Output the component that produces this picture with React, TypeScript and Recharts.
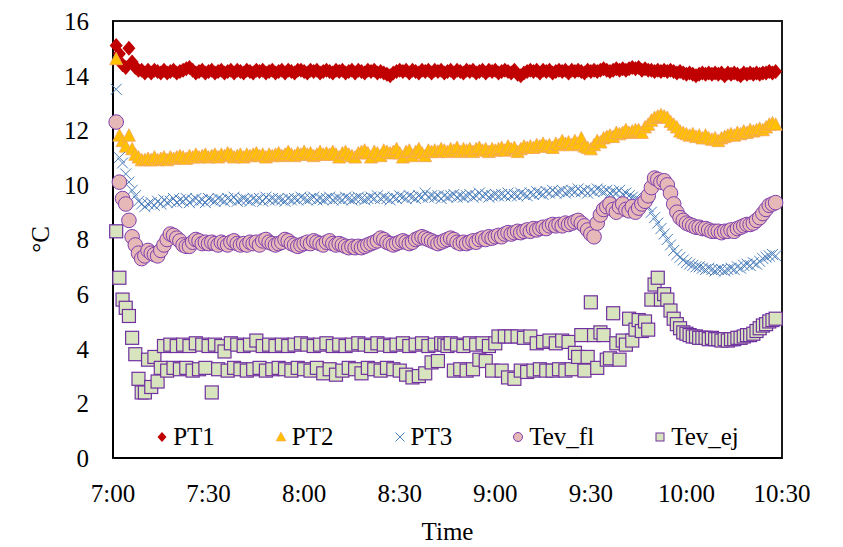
import React from 'react';
import { ScatterChart, Scatter, XAxis, YAxis, Legend, ReferenceArea } from 'recharts';

const FONT = '"Liberation Serif", "Times New Roman", Times, serif';

// minutes after 7:00
const minutes = [
  1, 2, 3, 4, 5, 6, 7, 8, 9, 10,
  11, 12, 13, 14, 15, 16, 17, 18, 19, 20,
  21, 22, 23, 24, 25, 26, 27, 28, 29, 30,
  31, 32, 33, 34, 35, 36, 37, 38, 39, 40,
  41, 42, 43, 44, 45, 46, 47, 48, 49, 50,
  51, 52, 53, 54, 55, 56, 57, 58, 59, 60,
  61, 62, 63, 64, 65, 66, 67, 68, 69, 70,
  71, 72, 73, 74, 75, 76, 77, 78, 79, 80,
  81, 82, 83, 84, 85, 86, 87, 88, 89, 90,
  91, 92, 93, 94, 95, 96, 97, 98, 99, 100,
  101, 102, 103, 104, 105, 106, 107, 108, 109, 110,
  111, 112, 113, 114, 115, 116, 117, 118, 119, 120,
  121, 122, 123, 124, 125, 126, 127, 128, 129, 130,
  131, 132, 133, 134, 135, 136, 137, 138, 139, 140,
  141, 142, 143, 144, 145, 146, 147, 148, 149, 150,
  151, 152, 153, 154, 155, 156, 157, 158, 159, 160,
  161, 162, 163, 164, 165, 166, 167, 168, 169, 170,
  171, 172, 173, 174, 175, 176, 177, 178, 179, 180,
  181, 182, 183, 184, 185, 186, 187, 188, 189, 190,
  191, 192, 193, 194, 195, 196, 197, 198, 199, 200,
  201, 202, 203, 204, 205, 206, 207, 208,
];

const xTicks = [0, 30, 60, 90, 120, 150, 180, 210];
const xTickLabels = ['7:00', '7:30', '8:00', '8:30', '9:00', '9:30', '10:00', '10:30'];
const yTicks = [0, 2, 4, 6, 8, 10, 12, 14, 16];

const pt1 = [
  15.1, 14.8, 14.4, 14.3, 15.0, 14.5, 14.3, 14.2, 14.2, 14.1,
  14.2, 14.1, 14.2, 14.15, 14.1, 14.2, 14.1, 14.15, 14.2, 14.1,
  14.15, 14.2, 14.25, 14.3, 14.2, 14.1, 14.15, 14.2, 14.1, 14.15,
  14.2, 14.1, 14.15, 14.2, 14.1, 14.15, 14.2, 14.1, 14.2, 14.15,
  14.1, 14.2, 14.15, 14.1, 14.2, 14.15, 14.2, 14.1, 14.15, 14.2,
  14.1, 14.15, 14.2, 14.1, 14.2, 14.15, 14.1, 14.2, 14.2, 14.15,
  14.1, 14.2, 14.15, 14.2, 14.1, 14.15, 14.2, 14.15, 14.1, 14.2,
  14.15, 14.2, 14.1, 14.15, 14.2, 14.1, 14.2, 14.15, 14.1, 14.2,
  14.15, 14.2, 14.1, 14.15, 14.1, 14.05, 14.0, 14.1, 14.15, 14.2,
  14.15, 14.2, 14.1, 14.2, 14.15, 14.1, 14.2, 14.15, 14.2, 14.1,
  14.2, 14.15, 14.2, 14.1, 14.15, 14.2, 14.1, 14.2, 14.15, 14.1,
  14.2, 14.15, 14.2, 14.1, 14.15, 14.2, 14.1, 14.2, 14.15, 14.2,
  14.1, 14.15, 14.2, 14.15, 14.1, 14.2, 14.05, 14.0, 14.1, 14.15,
  14.2, 14.15, 14.2, 14.1, 14.2, 14.15, 14.2, 14.1, 14.15, 14.2,
  14.15, 14.2, 14.1, 14.2, 14.15, 14.2, 14.15, 14.1, 14.2, 14.15,
  14.2, 14.15, 14.2, 14.25, 14.2, 14.15, 14.2, 14.25, 14.2, 14.25,
  14.2, 14.25, 14.3, 14.25, 14.3, 14.2, 14.25, 14.2, 14.2, 14.15,
  14.2, 14.15, 14.2, 14.15, 14.2, 14.15, 14.1, 14.15, 14.1, 14.05,
  14.1, 14.05, 14.0, 14.05, 14.1, 14.05, 14.1, 14.05, 14.1, 14.05,
  14.1, 14.0, 14.1, 14.05, 14.1, 14.05, 14.0, 14.1, 14.05, 14.1,
  14.05, 14.1, 14.05, 14.1, 14.1, 14.15, 14.1, 14.15,
];

const pt2 = [
  14.6, 11.8, 11.6, 11.4, 11.8, 11.3, 11.1, 11.0, 10.9, 10.9,
  10.95, 10.9, 11.0, 10.9, 10.95, 11.0, 10.9, 11.0, 10.95, 11.0,
  11.05, 11.0, 10.95, 11.05, 11.0, 11.1, 11.0, 11.05, 11.1, 11.0,
  11.05, 11.1, 11.0, 11.1, 11.05, 11.15, 11.1, 11.0, 11.05, 11.1,
  11.0, 11.1, 11.05, 11.1, 11.15, 11.05, 11.1, 11.0, 11.1, 11.05,
  11.1, 11.15, 11.05, 11.1, 11.2, 11.1, 11.05, 11.15, 11.1, 11.2,
  11.1, 11.15, 11.05, 11.1, 11.2, 11.1, 11.15, 11.1, 11.2, 11.1,
  11.0, 11.15, 11.2, 11.1, 11.05, 11.0, 11.15, 11.2, 11.25, 11.15,
  11.0, 11.2, 11.15, 11.05, 11.25, 11.2, 11.15, 11.2, 11.3, 11.15,
  11.0, 11.2, 11.25, 11.05, 11.2, 11.3, 11.15, 11.05, 11.25, 11.2,
  11.25, 11.2, 11.3, 11.25, 11.2, 11.3, 11.25, 11.35, 11.2, 11.3,
  11.25, 11.3, 11.2, 11.3, 11.35, 11.25, 11.3, 11.2, 11.3, 11.25,
  11.3, 11.35, 11.25, 11.4, 11.3, 11.35, 11.2, 11.3, 11.4, 11.35,
  11.4, 11.35, 11.45, 11.4, 11.5, 11.4, 11.45, 11.35, 11.5, 11.45,
  11.6, 11.5, 11.55, 11.45, 11.6, 11.5, 11.7, 11.4, 11.35, 11.3,
  11.45, 11.6, 11.55, 11.7, 11.75, 11.8, 11.75, 11.9, 11.85, 11.9,
  12.0, 11.9, 11.95, 12.0, 12.0, 11.9, 12.1, 12.2, 12.35, 12.45,
  12.5, 12.55, 12.5, 12.45, 12.3, 12.2, 12.1, 11.95, 11.9, 11.85,
  11.8, 11.85, 11.75, 11.8, 11.7, 11.8, 11.7, 11.65, 11.7, 11.6,
  11.7, 11.75, 11.8, 11.85, 11.8, 11.9, 11.85, 11.95, 11.9, 12.0,
  11.95, 12.0, 12.05, 12.0, 12.1, 12.2, 12.25, 12.2,
];

const pt3 = [
  13.5, 11.0, 10.8, 10.4, 10.1, 9.8, 9.6, 9.4, 9.3, 9.2,
  9.3, 9.35, 9.25, 9.4, 9.3, 9.45, 9.35, 9.4, 9.5, 9.35,
  9.45, 9.4, 9.5, 9.35, 9.45, 9.5, 9.4, 9.45, 9.35, 9.5,
  9.45, 9.4, 9.5, 9.45, 9.4, 9.5, 9.45, 9.55, 9.4, 9.45,
  9.5, 9.45, 9.4, 9.5, 9.45, 9.5, 9.4, 9.55, 9.45, 9.5,
  9.45, 9.5, 9.45, 9.4, 9.5, 9.45, 9.5, 9.45, 9.55, 9.5,
  9.45, 9.5, 9.55, 9.45, 9.5, 9.45, 9.5, 9.55, 9.45, 9.5,
  9.5, 9.45, 9.55, 9.5, 9.45, 9.5, 9.55, 9.5, 9.45, 9.5,
  9.55, 9.5, 9.6, 9.5, 9.55, 9.5, 9.45, 9.55, 9.5, 9.6,
  9.55, 9.5, 9.6, 9.55, 9.5, 9.6, 9.55, 9.7, 9.55, 9.6,
  9.55, 9.6, 9.5, 9.6, 9.55, 9.6, 9.65, 9.55, 9.6, 9.55,
  9.6, 9.65, 9.55, 9.6, 9.7, 9.6, 9.65, 9.55, 9.6, 9.65,
  9.6, 9.65, 9.6, 9.7, 9.6, 9.65, 9.6, 9.7, 9.65, 9.6,
  9.7, 9.65, 9.75, 9.7, 9.65, 9.75, 9.7, 9.8, 9.7, 9.75,
  9.8, 9.7, 9.75, 9.8, 9.75, 9.85, 9.75, 9.8, 9.7, 9.8,
  9.75, 9.85, 9.8, 9.75, 9.8, 9.7, 9.75, 9.7, 9.8, 9.65,
  9.7, 9.6, 9.55, 9.5, 9.45, 9.4, 9.3, 9.2, 9.0, 8.8,
  8.6, 8.4, 8.2, 8.0, 7.8, 7.6, 7.45, 7.35, 7.25, 7.15,
  7.1, 7.05, 7.0, 7.0, 6.95, 6.9, 6.95, 6.9, 6.85, 6.9,
  6.9, 6.85, 6.9, 6.95, 6.9, 7.0, 6.95, 7.05, 7.1, 7.05,
  7.15, 7.1, 7.2, 7.3, 7.35, 7.4, 7.45, 7.4,
];

const tevFl = [
  12.3, 10.1, 9.5, 9.3, 8.7, 8.1, 7.8, 7.5, 7.3, 7.4,
  7.6, 7.5, 7.45, 7.4, 7.6, 7.8, 8.0, 8.2, 8.15, 8.05,
  7.95, 7.8, 7.75, 7.75, 7.9, 8.0, 7.95, 7.85, 7.9, 7.85,
  7.9, 7.85, 7.8, 7.9, 7.85, 7.8, 7.9, 7.95, 7.85, 7.8,
  7.85, 7.8, 7.9, 7.85, 7.9, 7.8, 7.95, 8.0, 7.9, 7.85,
  7.8, 7.85, 7.9, 8.0, 7.95, 7.85, 7.8, 7.75, 7.8, 7.85,
  7.9, 7.85, 7.95, 7.9, 7.85, 7.8, 7.9, 7.95, 7.85, 7.8,
  7.85, 7.8, 7.75, 7.7, 7.75, 7.7, 7.75, 7.7, 7.75, 7.8,
  7.85, 7.9, 7.95, 8.05, 8.0, 7.9, 7.85, 7.8, 7.85, 7.9,
  7.95, 7.9, 7.85, 7.9, 8.0, 8.05, 8.1, 8.05, 8.0, 7.95,
  7.9, 7.85, 7.9, 7.95, 8.0, 8.05, 8.0, 7.9, 7.85, 7.9,
  7.85, 7.9, 7.95, 7.9, 8.0, 8.05, 8.0, 8.1, 8.05, 8.1,
  8.15, 8.1, 8.2, 8.25, 8.2, 8.25, 8.3, 8.25, 8.3, 8.35,
  8.3, 8.4, 8.35, 8.4, 8.45, 8.4, 8.5, 8.55, 8.5, 8.55,
  8.5, 8.6, 8.55, 8.6, 8.65, 8.7, 8.6, 8.5, 8.35, 8.2,
  8.1, 8.6, 8.9, 9.1, 9.2, 9.3, 9.1, 9.0, 9.2, 9.3,
  9.1, 9.05, 9.2, 9.0, 9.15, 9.3, 9.4, 9.6, 9.9, 10.25,
  10.2, 10.1, 10.15, 10.0, 9.7, 9.3, 9.0, 8.8, 8.7, 8.6,
  8.55, 8.5, 8.45, 8.45, 8.4, 8.4, 8.35, 8.3, 8.3, 8.3,
  8.25, 8.3, 8.3, 8.35, 8.3, 8.4, 8.45, 8.5, 8.55, 8.55,
  8.6, 8.7, 8.8, 8.95, 9.1, 9.25, 9.3, 9.35,
];

const tevEj = [
  8.3, 6.6, 5.8, 5.5, 5.2, 4.4, 3.8, 2.9, 2.4, 2.4,
  3.6, 2.6, 3.7, 2.8, 3.3, 4.1, 3.2, 4.15, 3.3, 4.1,
  3.25, 4.15, 3.3, 4.1, 3.2, 4.2, 3.25, 4.15, 3.3, 4.1,
  2.4, 4.15, 3.25, 4.1, 3.9, 3.2, 4.2, 3.3, 4.15, 3.25,
  4.1, 3.2, 4.15, 3.25, 4.3, 3.3, 4.1, 3.2, 4.15, 3.25,
  4.1, 3.3, 4.15, 3.25, 4.1, 3.2, 4.15, 3.3, 4.2, 3.25,
  4.15, 3.2, 4.1, 3.3, 4.15, 3.1, 4.2, 3.25, 4.1, 3.05,
  4.15, 3.2, 4.1, 3.3, 4.15, 3.25, 4.2, 3.1, 4.15, 3.3,
  4.1, 3.25, 4.2, 3.2, 4.15, 3.3, 4.1, 3.25, 4.15, 3.2,
  4.2, 3.05, 4.1, 2.95, 4.15, 3.0, 4.2, 3.1, 4.1, 3.5,
  4.15, 3.55, 4.2, 4.15, 4.1, 4.2, 3.2, 4.15, 3.25, 4.1,
  3.2, 4.2, 3.25, 4.15, 3.6, 4.2, 3.55, 4.1, 3.2, 4.2,
  4.45, 3.2, 4.45, 2.95, 4.45, 2.9, 4.45, 3.2, 4.4, 3.15,
  4.45, 3.2, 4.2, 3.25, 4.25, 3.2, 4.3, 3.2, 4.2, 3.25,
  4.3, 3.2, 4.25, 3.25, 3.85, 3.7, 4.5, 3.2, 3.7, 5.7,
  4.5, 3.3, 4.6, 4.5, 3.6, 3.65, 5.3, 4.2, 3.6, 4.3,
  4.15, 5.1, 4.3, 4.7, 5.05, 4.65, 5.0, 4.7, 5.8, 6.35,
  6.6, 5.8, 6.0, 5.8, 5.4, 5.1, 4.9, 4.75, 4.6, 4.55,
  4.5, 4.45, 4.45, 4.4, 4.4, 4.4, 4.35, 4.4, 4.35, 4.35,
  4.3, 4.35, 4.3, 4.35, 4.35, 4.4, 4.4, 4.45, 4.5, 4.5,
  4.55, 4.65, 4.75, 4.85, 4.9, 5.0, 5.05, 5.1,
];

const seriesNames = ['PT1', 'PT2', 'PT3', 'Tev_fl', 'Tev_ej'];

const toPoints = (vals: number[]) => vals.map((v, i) => ({ t: minutes[i], v }));

const DiamondShape = (p: any) => {
  const { cx, cy } = p;
  return <path d={`M${cx},${cy - 7.5}L${cx + 6.5},${cy}L${cx},${cy + 7.5}L${cx - 6.5},${cy}Z`} fill="#C00000" />;
};
const TriangleShape = (p: any) => {
  const { cx, cy } = p;
  return (
    <path
      d={`M${cx},${cy - 7}L${cx + 6.5},${cy + 5.5}L${cx - 6.5},${cy + 5.5}Z`}
      fill="#FFC000"
      stroke="#F4A460"
      strokeWidth={0.8}
    />
  );
};
const XShape = (p: any) => {
  const { cx, cy } = p;
  const s = 5.5;
  return (
    <path
      d={`M${cx - s},${cy - s}L${cx + s},${cy + s}M${cx - s},${cy + s}L${cx + s},${cy - s}`}
      stroke="#4A7EBB"
      strokeWidth={1}
      fill="none"
    />
  );
};
const CircleShape = (p: any) => {
  const { cx, cy } = p;
  return <circle cx={cx} cy={cy} r={7.3} fill="#E6B9B8" stroke="#7F3FAF" strokeWidth={1} />;
};
const SquareShape = (p: any) => {
  const { cx, cy } = p;
  return <rect x={cx - 6.5} y={cy - 6.5} width={13} height={13} fill="#D7E4BD" stroke="#7030A0" strokeWidth={1.2} />;
};

const LegendIcon = ({ kind }: { kind: number }) => {
  const c = 6;
  let el: React.ReactNode = null;
  if (kind === 0) el = <path d={`M${c},${c - 5}L${c + 4.5},${c}L${c},${c + 5}L${c - 4.5},${c}Z`} fill="#C00000" />;
  if (kind === 1) el = <path d={`M${c},${c - 5}L${c + 5},${c + 4}L${c - 5},${c + 4}Z`} fill="#FFC000" stroke="#F4A460" strokeWidth={0.6} />;
  if (kind === 2)
    el = (
      <path d={`M${c - 4.5},${c - 4.5}L${c + 4.5},${c + 4.5}M${c - 4.5},${c + 4.5}L${c + 4.5},${c - 4.5}`} stroke="#4A7EBB" strokeWidth={1} />
    );
  if (kind === 3) el = <circle cx={c} cy={c} r={4.5} fill="#E6B9B8" stroke="#7F3FAF" strokeWidth={1} />;
  if (kind === 4) el = <rect x={c - 4} y={c - 4} width={8} height={8} fill="#D7E4BD" stroke="#7030A0" strokeWidth={1} />;
  return (
    <svg width={12} height={12} style={{ marginRight: 5 }}>
      {el}
    </svg>
  );
};

const renderLegend = () => (
  <div
    style={{
      display: 'flex',
      justifyContent: 'center',
      alignItems: 'center',
      gap: 60,
      fontFamily: FONT,
      fontSize: 25,
      color: '#000',
      lineHeight: '28px',
    }}
  >
    {seriesNames.map((n, i) => (
      <div key={n} style={{ display: 'flex', alignItems: 'center' }}>
        <LegendIcon kind={i} />
        <span>{n}</span>
      </div>
    ))}
  </div>
);

const YTitle = (props: any) => {
  const vb = props.viewBox || { x: 0, y: 0, width: 0, height: 0 };
  const x = vb.x + vb.width - 73;
  const y = vb.y + vb.height / 2;
  return (
    <text
      x={x}
      y={y}
      transform={`rotate(-90 ${x} ${y})`}
      textAnchor="middle"
      dominantBaseline="central"
      fontFamily={FONT}
      fontSize={25}
      fill="#000"
    >
      °C
    </text>
  );
};

const XTitle = (props: any) => {
  const vb = props.viewBox || { x: 0, y: 0, width: 0, height: 0 };
  return (
    <text x={vb.x + vb.width / 2} y={vb.y + 82} textAnchor="middle" fontFamily={FONT} fontSize={25} fill="#000">
      Time
    </text>
  );
};

export default function App() {
  const tickStyle = { fill: '#000', fontSize: 25, fontFamily: FONT };
  return (
    <div style={{ position: 'absolute', left: 0, top: 0, background: '#fff' }}>
      <ScatterChart width={843} height={547} margin={{ top: 21, right: 61, bottom: 39, left: 43 }}>
        <XAxis
          type="number"
          dataKey="t"
          domain={[0, 210]}
          ticks={xTicks}
          interval={0}
          tickFormatter={(v: number) => xTickLabels[xTicks.indexOf(v)]}
          height={50}
          tickLine={false}
          tickSize={0}
          tickMargin={26}
          axisLine={{ stroke: '#000', strokeWidth: 2 }}
          tick={tickStyle}
          label={<XTitle />}
        />
        <YAxis
          type="number"
          dataKey="v"
          domain={[0, 16]}
          ticks={yTicks}
          interval={0}
          width={70}
          tickLine={false}
          tickSize={0}
          tickMargin={24}
          axisLine={{ stroke: '#000', strokeWidth: 2 }}
          tick={tickStyle}
          label={<YTitle />}
        />
        <ReferenceArea x1={0} x2={210} y1={0} y2={16} fill="none" stroke="#1a1a1a" strokeWidth={2} />
        <Scatter name="PT1" data={toPoints(pt1)} shape={DiamondShape} isAnimationActive={false} />
        <Scatter name="PT2" data={toPoints(pt2)} shape={TriangleShape} isAnimationActive={false} />
        <Scatter name="PT3" data={toPoints(pt3)} shape={XShape} isAnimationActive={false} />
        <Scatter name="Tev_fl" data={toPoints(tevFl)} shape={CircleShape} isAnimationActive={false} />
        <Scatter name="Tev_ej" data={toPoints(tevEj)} shape={SquareShape} isAnimationActive={false} />
        <Legend
          verticalAlign="middle"
          align="center"
          layout="horizontal"
          wrapperStyle={{ top: 423, left: 113, width: 669 }}
          content={renderLegend}
        />
      </ScatterChart>
    </div>
  );
}
